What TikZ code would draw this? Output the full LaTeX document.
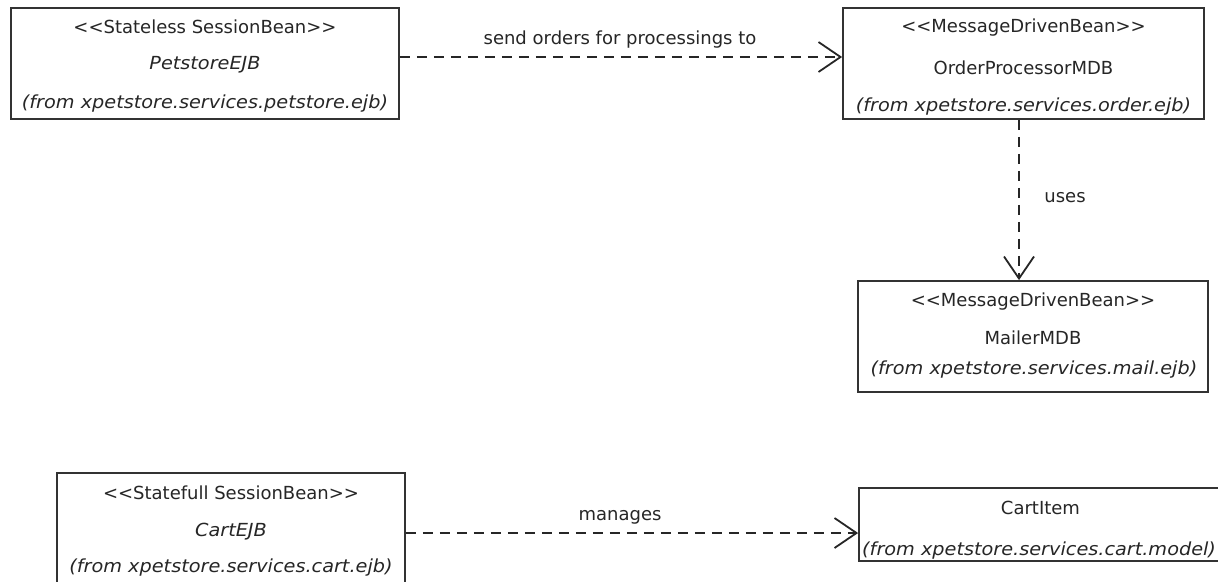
\documentclass[tikz,border=0pt]{standalone}
\usepackage{fontspec}
\setmainfont{DejaVu Sans}[Ligatures=NoCommon]
\newfontfamily\wideit{DejaVu Sans}[FakeStretch=1.07, Ligatures=NoCommon]
\usetikzlibrary{arrows.meta}
\newcommand{\st}[1]{{<}{<}#1{>}{>}}
\tikzset{
  box/.style={draw=black!80, line width=1.8pt, rectangle, inner sep=0pt},
  txt/.style={inner sep=0pt, font=\fontsize{18}{21}\selectfont, text=black!85},
  itxt/.style={txt, font=\fontsize{18}{21}\selectfont\wideit\itshape},
  dep/.style={draw=black!85, line width=1.8pt, dash pattern=on 10pt off 7pt,
    -{Straight Barb[length=22pt,width=30pt,line width=1.8pt]}},
  lbl/.style={txt}
}
\begin{document}
\begin{tikzpicture}[x=1pt,y=-1pt]
\fill[white] (0,0) rectangle (1218,581);
\useasboundingbox (0,0) rectangle (1218,581);
% boxes
\node[box, minimum width=388pt, minimum height=111pt] (b1) at (205,63.5) {};
\node[box, minimum width=361pt, minimum height=111pt] (b2) at (1023.5,63.5) {};
\node[box, minimum width=350pt, minimum height=111pt] (b3) at (1033,336.5) {};
\node[box, minimum width=348pt, minimum height=111pt] (b4) at (231,528.5) {};
\node[box, minimum width=363pt, minimum height=73pt] (b5) at (1040.5,524.5) {};
% texts
\node[txt]  (t1a) at (205,27) {\st{Stateless SessionBean}};
\node[itxt] (t1b) at (205,65) {PetstoreEJB};
\node[itxt] (t1c) at (205,104) {(from xpetstore.services.petstore.ejb)};
\node[txt]  (t2a) at (1023.5,28) {\st{MessageDrivenBean}};
\node[txt]  (t2b) at (1023.5,68) {OrderProcessorMDB};
\node[itxt] (t2c) at (1023.5,107) {(from xpetstore.services.order.ejb)};
\node[txt]  (t3a) at (1033,302) {\st{MessageDrivenBean}};
\node[txt]  (t3b) at (1033,338) {MailerMDB};
\node[itxt] (t3c) at (1034,370) {(from xpetstore.services.mail.ejb)};
\node[txt]  (t4a) at (231,493) {\st{Statefull SessionBean}};
\node[itxt] (t4b) at (231,532) {CartEJB};
\node[itxt] (t4c) at (231,568) {(from xpetstore.services.cart.ejb)};
\node[txt]  (t5a) at (1040.5,508) {CartItem};
\node[itxt, anchor=west] (t5b) at (862,551) {(from xpetstore.services.cart.model)};
% connectors
\draw[dep] (b1.east |- 0,57) -- (b2.west |- 0,57);
\node[lbl] (l1) at (620,40) {send orders for processings to};
\draw[dep] (1019,0 |- b2.south) -- (1019,0 |- b3.north);
\node[lbl] (l2) at (1065,198) {uses};
\draw[dep] (b4.east |- 0,533) -- (b5.west |- 0,533);
\node[lbl] (l3) at (620,517) {manages};
\end{tikzpicture}
\end{document}
